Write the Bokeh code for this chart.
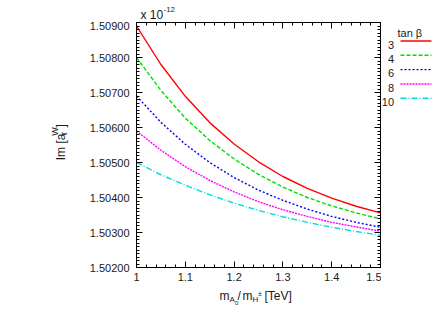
import math
from bokeh.plotting import figure
from bokeh.models import FixedTicker, PrintfTickFormatter, LinearAxis, Range1d
from bokeh.layouts import row, column
from bokeh.core.properties import value
from bokeh.embed import file_html
from bokeh.resources import INLINE

# ---- data (values in units of 1e-12) ----
mass = [1.00, 1.05, 1.10, 1.15, 1.20, 1.25, 1.30, 1.35, 1.40, 1.45, 1.50]
tanb_3 = [1.50890, 1.50780, 1.50689, 1.50614, 1.50553, 1.50502, 1.50460, 1.50426, 1.50398, 1.50375, 1.50356]
tanb_4 = [1.50800, 1.50706, 1.50627, 1.50563, 1.50510, 1.50466, 1.50430, 1.50400, 1.50376, 1.50356, 1.50339]
tanb_6 = [1.50690, 1.50615, 1.50552, 1.50500, 1.50457, 1.50421, 1.50392, 1.50367, 1.50346, 1.50329, 1.50315]
tanb_8 = [1.50590, 1.50535, 1.50488, 1.50449, 1.50416, 1.50388, 1.50365, 1.50346, 1.50329, 1.50316, 1.50304]
tanb_10 = [1.50500, 1.50465, 1.50435, 1.50408, 1.50384, 1.50363, 1.50345, 1.50329, 1.50315, 1.50303, 1.50292]
series_labels = ["3", "4", "6", "8", "10"]

x_ticks = [1.0, 1.1, 1.2, 1.3, 1.4, 1.5]
x_tick_labels = ["1", "1.1", "1.2", "1.3", "1.4", "1.5"]
y_ticks = [1.502, 1.503, 1.504, 1.505, 1.506, 1.507, 1.508, 1.509]

FONT = "Liberation Sans"
TXT = "#1a1a1a"

x_minor = [1.0 + 0.02 * i for i in range(26)]
y_minor = [1.502 + 0.0001 * i for i in range(71)]

# ---- layout geometry (canvas px) ----
TOTAL_W = 439
TOP_H = 21          # strip above main figure
LEFT_W = 70         # strip left of main figure (y label)
MAIN_W = 311        # main figure width  (frame 136..380)
LEG_X0 = LEFT_W + MAIN_W
LEG_W = TOTAL_W - LEG_X0
MAIN_H = 265        # frame 22..266
BOT_H = 20          # strip below (x label)
MAIN_BOTTOM = TOP_H + MAIN_H


def blank(w, h, x0, x1, ytop, ybot):
    f = figure(width=w, height=h, x_range=Range1d(x0, x1), y_range=Range1d(ybot, ytop),
               output_backend="svg", toolbar_location=None, x_axis_type=None, y_axis_type=None,
               min_border=0, min_border_left=0, min_border_right=0, min_border_top=0,
               min_border_bottom=0)
    f.outline_line_color = None
    f.background_fill_color = "white"
    f.border_fill_color = "white"
    return f


def txt(f, X, Y, s, size, angle=0.0, align="left"):
    f.text(x=[X], y=[Y], text=[s], text_font=value(FONT), text_font_size=value(size),
           text_color=TXT, text_align=align, text_baseline="alphabetic", angle=angle)


# ---- main plot ----
p = figure(width=MAIN_W, height=MAIN_H, x_range=(1.0, 1.5), y_range=(1.502, 1.509),
           output_backend="svg", toolbar_location=None,
           min_border_left=66, min_border_right=1, min_border_top=1, min_border_bottom=19)
p.grid.visible = False
p.outline_line_color = "black"
p.background_fill_color = "white"
p.border_fill_color = "white"


def style_axis(ax, show_labels):
    ax.axis_line_color = "black"
    ax.major_tick_line_color = "black"
    ax.minor_tick_line_color = "black"
    ax.major_tick_in = 6
    ax.major_tick_out = 0
    ax.minor_tick_in = 3
    ax.minor_tick_out = 0
    ax.major_label_text_font = FONT
    ax.major_label_text_font_size = "11px"
    ax.major_label_text_color = TXT
    if not show_labels:
        ax.major_label_text_alpha = 0
        ax.major_label_text_font_size = "0px"
        ax.major_label_standoff = 0


p.xaxis.ticker = FixedTicker(ticks=x_ticks, minor_ticks=x_minor)
p.xaxis.major_label_overrides = {t: l for t, l in zip(x_ticks, x_tick_labels)}
p.yaxis.ticker = FixedTicker(ticks=y_ticks, minor_ticks=y_minor)
p.yaxis.formatter = PrintfTickFormatter(format="%.5f")
style_axis(p.xaxis[0], True)
style_axis(p.yaxis[0], True)
p.xaxis.major_label_standoff = 5
p.yaxis.major_label_standoff = 7

top_ax = LinearAxis(ticker=FixedTicker(ticks=x_ticks, minor_ticks=x_minor))
style_axis(top_ax, False)
p.add_layout(top_ax, "above")
right_ax = LinearAxis(ticker=FixedTicker(ticks=y_ticks, minor_ticks=y_minor))
style_axis(right_ax, False)
p.add_layout(right_ax, "right")

series = [tanb_3, tanb_4, tanb_6, tanb_8, tanb_10]
colors = ["#ff0000", "#00dd00", "#0000ff", "#ff00ff", "#00dddd"]
dashes = ["solid", "4 2", "2 2", "2 1", "6 2 1 2"]
for ys, c, d in zip(series, colors, dashes):
    p.line(mass, ys, line_color=c, line_dash=d, line_width=1.4)

# ---- top strip: multiplier x 10^-12 ----
top_fig = blank(TOTAL_W, TOP_H, 0, TOTAL_W, 0, TOP_H)
txt(top_fig, 140, 14, "x 10", "12px")
txt(top_fig, 163, 8.5, "-12", "8px")

# ---- left strip: y label Im [a_tau^W] (rotated) ----
left_fig = blank(LEFT_W, MAIN_H, 0, LEFT_W, TOP_H, MAIN_BOTTOM)
A = math.pi / 2
txt(left_fig, 60, 170, "Im [a", "12px", angle=A)
txt(left_fig, 63, 143.5, "τ", "9px", angle=A)
txt(left_fig, 54, 143.5, "W", "9px", angle=A)
txt(left_fig, 60, 134.5, "]", "12px", angle=A)

# ---- right strip: key (label, then line sample) ----
leg_fig = blank(LEG_W, MAIN_H, LEG_X0, TOTAL_W, TOP_H, MAIN_BOTTOM)
txt(leg_fig, 397, 32, "tan β", "11px")
for i, (lab, c, d) in enumerate(zip(series_labels, colors, dashes)):
    yc = 41 + 15.5 * i
    txt(leg_fig, 393.5, yc + 4, lab, "11px", align="right")
    leg_fig.line([400, 431], [yc, yc], line_color=c, line_dash=d, line_width=1.4)

# ---- bottom strip: x label m_{A_0} / m_{H^±} [TeV] ----
bot_fig = blank(TOTAL_W, BOT_H, 0, TOTAL_W, MAIN_BOTTOM, MAIN_BOTTOM + BOT_H)
txt(bot_fig, 219, 295, "m", "12px")
txt(bot_fig, 229, 299, "A", "8px")
txt(bot_fig, 234.5, 302, "0", "6px")
txt(bot_fig, 237, 295, "/", "12px")
txt(bot_fig, 242, 295, "m", "12px")
txt(bot_fig, 252, 298.5, "H", "8px")
txt(bot_fig, 257.5, 293, "±", "7px")
txt(bot_fig, 264, 295, "[TeV]", "12px")

layout = column(top_fig, row(left_fig, p, leg_fig), bot_fig)
open("out.html", "w").write(file_html(layout, INLINE))
